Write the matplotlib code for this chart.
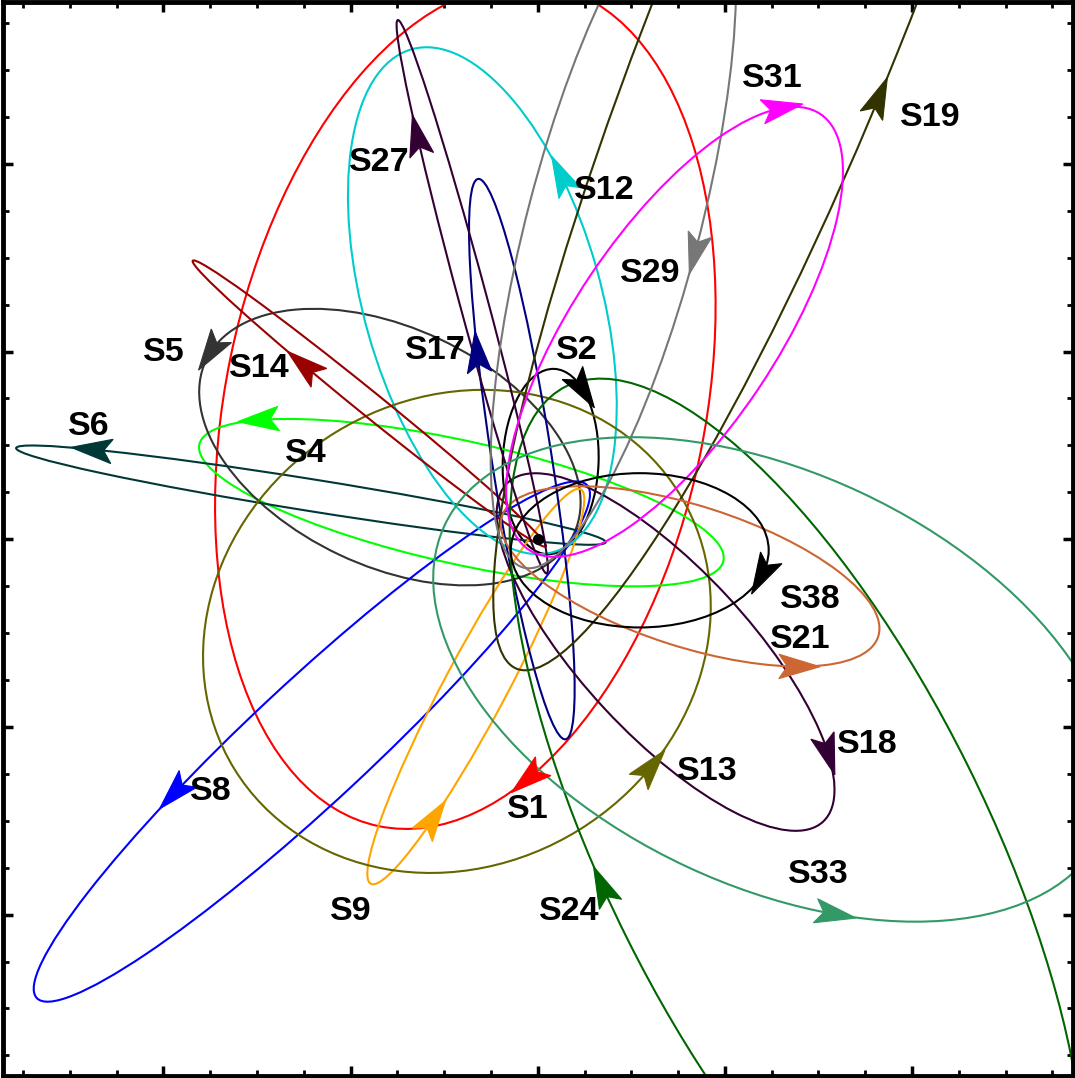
import numpy as np
import matplotlib
matplotlib.use("Agg")
import matplotlib.pyplot as plt
from matplotlib.patches import Ellipse, Polygon
from matplotlib.ticker import MultipleLocator

# Projected orbits of the S-stars around Sgr A* (offsets in mas)
stars = ["S1", "S2", "S4", "S5", "S6", "S8", "S9", "S12", "S13", "S14",
         "S17", "S18", "S19", "S21", "S24", "S27", "S29", "S31", "S33", "S38"]
colors = ["#ff0000", "#000000", "#00ff00", "#333333", "#003838", "#0000ff",
          "#ffa500", "#00cccc", "#666600", "#990000", "#000080", "#330033",
          "#333300", "#cc6633", "#006600", "#330033", "#777777", "#ff00ff",
          "#339966", "#000000"]
centre_x = [-38.7, 6.9, -40.8, -79.0, -121.2, -120.7, -33.1, -29.6, -43.2, -90.0,
            -8.5, 68.3, 131.3, 81.4, 138.5, -35.0, 40.4, 73.1, 126.0, 54.5]
centre_y = [71.0, 41.4, 19.5, 49.1, 23.5, -107.8, -78.5, 127.1, -49.1, 72.3,
            42.7, -60.1, 284.0, -19.8, -166.1, 129.2, 167.9, 110.5, -74.7, -5.9]
semi_major = [228.6, 49.4, 143.4, 108.6, 159.5, 200.7, 119.1, 139.2, 139.7, 121.2,
              151.1, 123.5, 380.7, 105.5, 276.6, 152.7, 189.2, 139.8, 194.0, 68.9]
semi_minor = [128.1, 25.6, 32.8, 63.4, 8.5, 32.0, 16.6, 63.4, 124.3, 6.4,
              16.0, 44.4, 65.7, 37.6, 102.0, 7.5, 46.1, 54.1, 110.0, 41.1]
tilt_deg = [78.3, 87.8, -12.5, -25.2, -9.05, 42.9, 61.9, -74.2, 31.6, -38.9,
            98.9, -47.0, 68.0, -17.65, -63.5, 105.1, 75.3, 56.1, -25.0, 0.0]
# eccentric-anomaly position of the direction arrow on each orbit
arrow_phase_deg = [-145, -37, 143, 175, 138, 111, -128, 112, -69, -109,
                   67, 37, -94, -49, -96, 54, -91, 21, -65, -18]
# +1 counter-clockwise, -1 clockwise on the sky plane
arrow_sense = [-1, -1, 1, 1, 1, 1, 1, 1, 1, -1,
               -1, -1, 1, 1, -1, -1, -1, -1, 1, -1]
label_x = [-5.3, 20.8, -123.9, -199.7, -239.7, -174.6, -99.8, 35.8, 90.8, -149.0,
           -54.5, 176.2, 209.8, 140.4, 16.6, -84.9, 60.3, 125.5, 150.0, 145.8]
label_y = [-144.2, 100.4, 45.9, 99.3, 60.3, -134.5, -198.6, 185.8, -123.9, 90.8,
           100.4, -109.5, 224.8, -53.4, -198.6, 200.7, 141.5, 245.6, -178.9, -32.0]

fig = plt.figure(figsize=(10.75, 10.78), dpi=100)
ax = fig.add_axes([0.00233, 0.00186, 0.9958, 0.99583])
ax.set_xlim(-286, 286)
ax.set_ylim(-286, 286)

ARROW_LEN = 22.0
ARROW_HALF_W = 6.5
ARROW_NOTCH = 4.5


def arrow_head(xc, yc, a, b, tilt, phase, sense, color):
    th = np.radians(tilt)
    t = np.radians(phase)
    e1 = np.array([np.cos(th), np.sin(th)])
    e2 = np.array([-np.sin(th), np.cos(th)])
    p = np.array([xc, yc]) + a * np.cos(t) * e1 + b * np.sin(t) * e2
    d = sense * (-a * np.sin(t) * e1 + b * np.cos(t) * e2)
    d = d / np.hypot(*d)
    n = np.array([-d[1], d[0]])
    tip = p + 0.55 * ARROW_LEN * d
    back = p - 0.45 * ARROW_LEN * d
    pts = [tip, back + ARROW_HALF_W * n, back + ARROW_NOTCH * d, back - ARROW_HALF_W * n]
    ax.add_patch(Polygon(pts, closed=True, facecolor=color, edgecolor=color,
                         lw=0.8, zorder=4))


for i, name in enumerate(stars):
    ax.add_patch(Ellipse((centre_x[i], centre_y[i]), 2 * semi_major[i], 2 * semi_minor[i],
                         angle=tilt_deg[i], fill=False, edgecolor=colors[i], lw=1.5,
                         zorder=2))
    arrow_head(centre_x[i], centre_y[i], semi_major[i], semi_minor[i], tilt_deg[i],
               arrow_phase_deg[i], arrow_sense[i], colors[i])
    ax.text(label_x[i], label_y[i], name, ha="center", va="center", fontsize=24.5,
            fontweight="bold", family="Liberation Sans", color="black", zorder=5)

# central black hole
ax.plot([0], [0], "o", color="black", ms=7, zorder=6)

ax.xaxis.set_major_locator(MultipleLocator(100))
ax.xaxis.set_minor_locator(MultipleLocator(25))
ax.yaxis.set_major_locator(MultipleLocator(100))
ax.yaxis.set_minor_locator(MultipleLocator(25))
ax.tick_params(which="both", direction="in", top=True, right=True,
               labelbottom=False, labelleft=False)
ax.tick_params(which="major", length=7, width=2.5)
ax.tick_params(which="minor", length=4, width=2)
for s in ax.spines.values():
    s.set_linewidth(3.5)

fig.savefig("out.png", dpi=100)
